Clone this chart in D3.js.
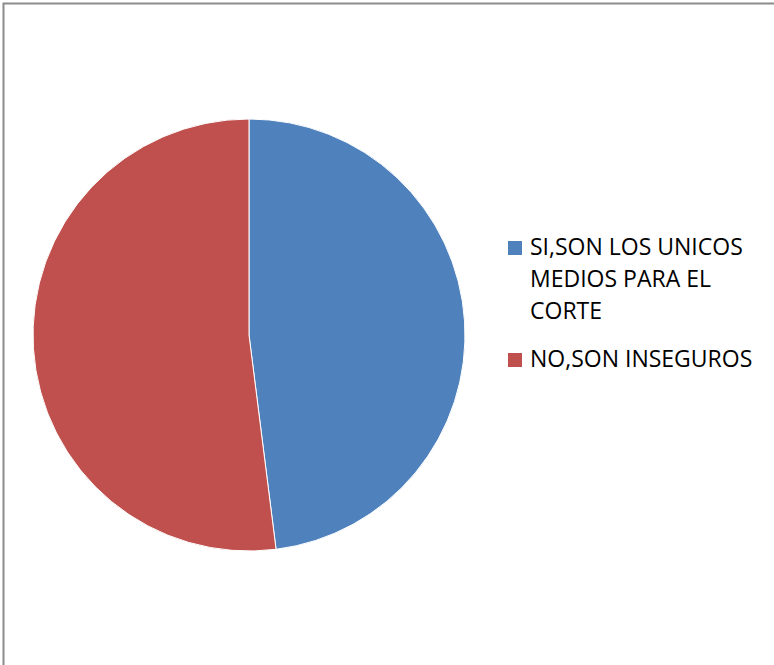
<!DOCTYPE html>
<html><head><meta charset="utf-8">
<script src="https://cdn.jsdelivr.net/npm/d3@7"></script>
<style>body{margin:0;background:#fff}svg{display:block}</style>
</head><body>
<script>
const categories = ["SI,SON LOS UNICOS MEDIOS PARA EL CORTE", "NO,SON INSEGUROS"];
const values = [12, 13];
const legendLines = [["SI,SON LOS UNICOS", "MEDIOS PARA EL", "CORTE"], ["NO,SON INSEGUROS"]];
const colors = ["#4F81BD", "#C0504D"];

const W = 774, H = 665;
const svg = d3.select("body").append("svg").attr("width", W).attr("height", H);
svg.append("rect").attr("x", 3.5).attr("y", 3.5).attr("width", W + 10).attr("height", H + 10)
  .attr("fill", "#fff").attr("stroke", "#8c8c8c").attr("stroke-width", 2);

const cx = 249, cy = 335, r = 216;
const pie = d3.pie().sort(null).value(d => d)(values);
const arc = d3.arc().innerRadius(0).outerRadius(r);
const g = svg.append("g").attr("transform", `translate(${cx},${cy})`);
g.selectAll("path").data(pie).join("path")
  .attr("d", arc).attr("fill", (d, i) => colors[i])
  .attr("stroke", "#fff").attr("stroke-width", 1);

const lg = svg.append("g").attr("font-family", "'Open Sans', sans-serif").attr("font-size", 23).attr("fill", "#000");
const starts = [255, 367];
legendLines.forEach((lines, i) => {
  lg.append("rect").attr("x", 508).attr("y", starts[i] - 14).attr("width", 14).attr("height", 14).attr("fill", colors[i]);
  lines.forEach((t, j) => {
    lg.append("text").attr("x", 530).attr("y", starts[i] + j * 32).text(t);
  });
});
</script>
</body></html>
